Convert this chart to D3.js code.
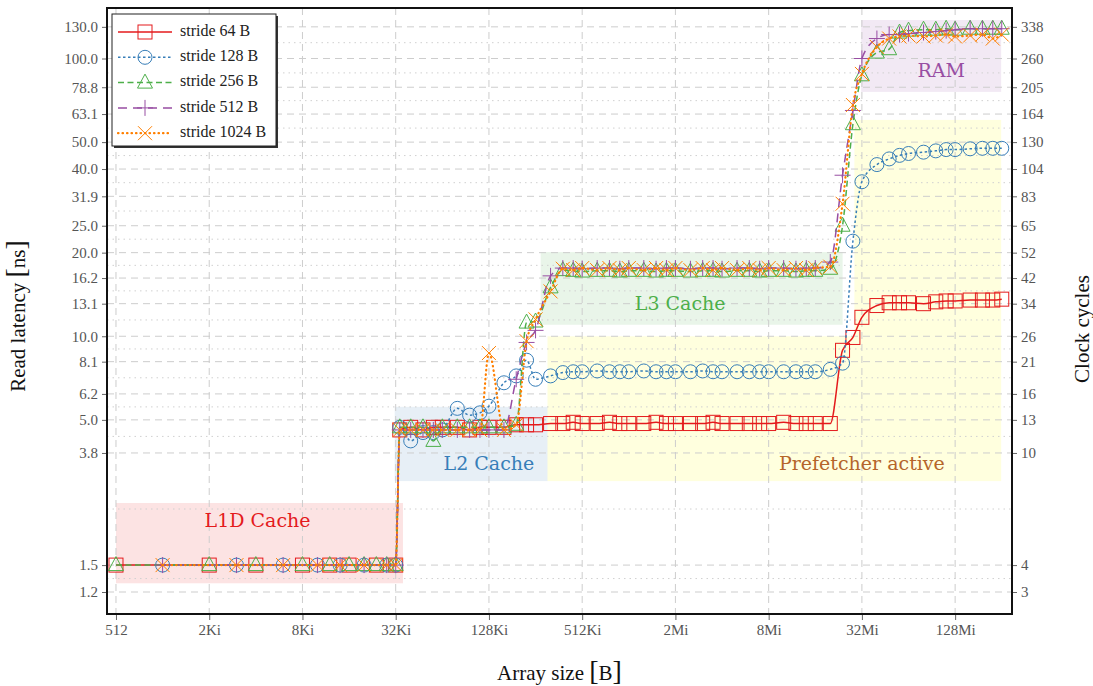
<!DOCTYPE html>
<html>
<head>
<meta charset="utf-8">
<script src="https://cdn.jsdelivr.net/npm/d3@7"></script>
<style>
  body { margin: 0; background: #fff; }
  svg { font-family: "Liberation Serif", "DejaVu Serif", serif; }
</style>
</head>
<body>
<svg id="chart" width="1093" height="686"></svg>
<script>
/* ---- data ---- */
// array sizes in KiB (sparse in L1, 4 per octave afterwards)
var sizesKiB = [0.5, 1, 2, 3, 4, 6, 8, 10, 12, 14, 16, 20, 24, 28,
  32, 34,
  40, 48, 56, 64, 80, 96, 112, 128, 160, 192, 224, 256,
  320, 384, 448, 512, 640, 768, 896, 1024, 1280, 1536, 1792, 2048, 2560, 3072, 3584,
  4096, 5120, 6144, 7168, 8192, 10240, 12288, 14336, 16384,
  20480, 24576, 28672, 32768, 40960, 49152, 57344, 65536, 81920, 98304, 114688, 131072,
  163840, 196608, 229376, 262144];

// read latency in ns, one value per size (null = not measured for that stride)
var lat64 = [1.5, null, 1.5, null, 1.5, null, 1.5, null, 1.5, null, 1.5, null, 1.5, null,
  1.5, 4.6,
  4.7, 4.6, 4.7, 4.7, 4.7, 4.6, 4.7, 4.7, 4.7, 4.8, 4.8, 4.8,
  4.85, 4.85, 4.9, 4.85, 4.85, 4.9, 4.85, 4.85, 4.85, 4.9, 4.85, 4.85, 4.85, 4.85, 4.9,
  4.85, 4.85, 4.85, 4.85, 4.85, 4.9, 4.85, 4.85, 4.85,
  4.85, 8.9, 9.9, 11.7, 12.9, 13.2, 13.2, 13.2, 13.1, 13.3, 13.4, 13.4,
  13.5, 13.5, 13.5, 13.6];
var lat128 = [null, 1.5, null, 1.5, null, 1.5, null, 1.5, null, 1.5, null, 1.5, null, 1.5,
  1.5, 4.7,
  4.2, 4.5, 4.5, 4.6, 5.5, 5.2, 5.3, 5.6, 6.8, 7.2, 8.2, 7.0,
  7.2, 7.4, 7.45, 7.45, 7.5, 7.45, 7.45, 7.45, 7.5, 7.45, 7.45, 7.45, 7.45, 7.5, 7.45,
  7.45, 7.45, 7.45, 7.45, 7.45, 7.45, 7.45, 7.45, 7.45,
  7.6, 8.0, 22, 36, 41.5, 43.5, 44.8, 45.5, 46, 46.5, 47, 47,
  47.3, 47.5, 47.5, 47.5];
var lat256 = [1.5, null, 1.5, null, 1.5, null, 1.5, null, 1.5, null, 1.5, 1.5, 1.5, 1.5,
  1.5, 4.7,
  4.7, 4.7, 4.2, 4.7, 4.7, 4.7, 4.7, 4.7, 4.7, 4.8, 11.2, 11.3,
  15.0, 17.3, 17.2, 17.1, 17.2, 17.2, 17.1, 17.2, 17.2, 17.1, 17.2, 17.2, 17.1, 17.2, 17.2,
  17.1, 17.2, 17.2, 17.1, 17.2, 17.2, 17.1, 17.2, 17.2,
  17.5, 25, 58, 87, 105, 108, 124, 126, 127, 127, 128, 127,
  128, 128, 128, 128];
var lat512 = [null, 1.5, null, 1.5, null, 1.5, null, 1.5, null, 1.5, null, 1.5, null, 1.5,
  1.5, 4.6,
  4.6, 4.6, 4.6, 4.6, 4.6, 4.6, 4.6, 4.6, 4.6, 7.0, 9.5, 10.5,
  16.5, 17.6, 17.6, 17.5, 17.6, 17.6, 17.5, 17.6, 17.6, 17.5, 17.6, 17.6, 17.5, 17.6, 17.6,
  17.5, 17.6, 17.6, 17.5, 17.6, 17.6, 17.5, 17.6, 17.6,
  18.5, 38, 65, 100, 118, 122, 122, 123, 124, 125, 126, 127,
  128, 128, 128, 128];
var lat1024 = [null, 1.5, null, 1.5, null, 1.5, null, 1.5, null, 1.5, null, 1.5, null, 1.5,
  1.5, 4.6,
  4.6, 4.6, 4.6, 4.6, 4.6, 4.6, 4.6, 8.7, 4.6, 4.8, 9.6, 11.5,
  14.5, 17.5, 17.3, 17.6, 17.3, 17.6, 17.3, 17.6, 17.3, 17.6, 17.3, 17.6, 17.3, 17.6, 17.3,
  17.6, 17.3, 17.6, 17.3, 17.6, 17.3, 17.6, 17.3, 17.6,
  17.8, 30, 68, 88, 110, 118, 120, 121, 120, 121, 122, 120,
  121, 122, 118, 122];

var seriesNames = ["stride 64 B", "stride 128 B", "stride 256 B", "stride 512 B", "stride 1024 B"];

var xTickValues = [512, 2048, 8192, 32768, 131072, 524288, 2097152, 8388608, 33554432, 134217728];
var xTickLabels = ["512", "2Ki", "8Ki", "32Ki", "128Ki", "512Ki", "2Mi", "8Mi", "32Mi", "128Mi"];
var yTicks = [1.2, 1.5, 3.8, 5.0, 6.2, 8.1, 10.0, 13.1, 16.2, 20.0, 25.0, 31.9, 40.0, 50.0, 63.1, 78.8, 100.0, 130.0];
var cycleLabels = [3, 4, 10, 13, 16, 21, 26, 34, 42, 52, 65, 83, 104, 130, 164, 205, 260, 338];

// shaded regions: size extents in bytes, latency extents in ns
var regions = [
  { name: "L1D Cache", color: "#e41a1c", x0: 512, x1: 36500, y0: 1.29, y1: 2.51, lx: 4200, ly: 2.15 },
  { name: "L2 Cache", color: "#377eb8", x0: 32300, x1: 313000, y0: 3.01, y1: 5.57, lx: 131072, ly: 3.44 },
  { name: "L3 Cache", color: "#4daf4a", x0: 283000, x1: 25.2e6, y0: 11.0, y1: 20.1, lx: 2.25e6, ly: 12.97 },
  { name: "Prefetcher active", color: "#ffff33", text: "#b5652a", x0: 313000, x1: 266e6, y0: 3.01, y1: 10.0, lx: 33554432, ly: 3.44 },
  { name: "", color: "#ffff33", x0: 30e6, x1: 266e6, y0: 10.0, y1: 60.1 },
  { name: "RAM", color: "#984ea3", x0: 33.2e6, x1: 266e6, y0: 75.8, y1: 137.6, lx: 109e6, ly: 89.6 }
];

/* ---- setup ---- */
var colors = ["#e41a1c", "#377eb8", "#4daf4a", "#984ea3", "#ff7f00"];
var dashes = [null, "2.5,2.5", "6,3.5", "9,6", "0.5,4"];
var markers = ["square", "circle", "triangle", "plus", "cross"];
var allLat = [lat64, lat128, lat256, lat512, lat1024];

// plot box (note: "top" is taken by window.top, so use other names)
var plotL = 107, plotR = 1012, plotT = 8, plotB = 614;

var svg = d3.select("#chart");

var x = d3.scaleLog().base(2).domain([448, 312.6e6]).range([plotL, plotR]);
var y = d3.scaleLog().domain([1.0, 152]).range([plotB, plotT]);

svg.append("defs").append("clipPath").attr("id", "plotclip")
  .append("rect").attr("x", plotL).attr("y", plotT).attr("width", plotR - plotL).attr("height", plotB - plotT);

// regions
svg.append("g").selectAll("rect").data(regions).enter().append("rect")
  .attr("x", function (d) { return x(d.x0); })
  .attr("y", function (d) { return y(d.y1); })
  .attr("width", function (d) { return x(d.x1) - x(d.x0); })
  .attr("height", function (d) { return y(d.y0) - y(d.y1); })
  .attr("fill", function (d) { return d.color; })
  .attr("fill-opacity", function (d) { return d.color == "#ffff33" ? 0.16 : 0.12; });

// grid
var grid = svg.append("g");
var minor = [];
for (var i = 0; i < yTicks.length - 1; i++) minor.push(Math.sqrt(yTicks[i] * yTicks[i + 1]));
grid.selectAll(".minor").data(minor).enter().append("line")
  .attr("x1", plotL).attr("x2", plotR)
  .attr("y1", function (d) { return y(d); }).attr("y2", function (d) { return y(d); })
  .attr("stroke", "#d0d0d0").attr("stroke-width", 1).attr("stroke-dasharray", "1.5,4");
grid.selectAll(".major").data(yTicks).enter().append("line")
  .attr("x1", plotL).attr("x2", plotR)
  .attr("y1", function (d) { return y(d); }).attr("y2", function (d) { return y(d); })
  .attr("stroke", "#cdcdcd").attr("stroke-width", 1).attr("stroke-dasharray", "7,5");
grid.selectAll(".vx").data(xTickValues).enter().append("line")
  .attr("x1", function (d) { return x(d); }).attr("x2", function (d) { return x(d); })
  .attr("y1", plotT).attr("y2", plotB)
  .attr("stroke", "#cdcdcd").attr("stroke-width", 1).attr("stroke-dasharray", "7,5");

// region labels
svg.append("g").selectAll("text").data(regions.filter(function (d) { return d.name; })).enter().append("text")
  .attr("x", function (d) { return x(d.lx); })
  .attr("y", function (d) { return y(d.ly); })
  .attr("text-anchor", "middle").attr("dominant-baseline", "middle")
  .attr("font-size", 19).style("font-family", "'DejaVu Serif', serif")
  .attr("fill", function (d) { return d.text || d.color; })
  .text(function (d) { return d.name; });

// marker shapes
function drawMarker(g, type, color) {
  var m;
  if (type == "square") m = g.append("rect").attr("x", -7).attr("y", -7).attr("width", 14).attr("height", 14);
  else if (type == "circle") m = g.append("circle").attr("r", 7);
  else if (type == "triangle") m = g.append("path").attr("d", "M0,-8.5L7.5,5.5L-7.5,5.5Z");
  else if (type == "plus") m = g.append("path").attr("d", "M-8,0H8M0,-8V8");
  else m = g.append("path").attr("d", "M-7,-7L7,7M-7,7L7,-7");
  m.attr("fill", "none").attr("stroke", color).attr("stroke-width", 1);
}

// series
var plot = svg.append("g").attr("clip-path", "url(#plotclip)");
var line = d3.line()
  .x(function (d) { return x(d.size); })
  .y(function (d) { return y(d.ns); })
  .curve(d3.curveMonotoneX);

allLat.forEach(function (vals, k) {
  var pts = sizesKiB.map(function (s, i) { return { size: s * 1024, ns: vals[i] }; })
    .filter(function (d) { return d.ns != null; });
  var g = plot.append("g");
  g.append("path").datum(pts).attr("d", line)
    .attr("fill", "none").attr("stroke", colors[k]).attr("stroke-width", k == 4 ? 2.2 : 1.5)
    .attr("stroke-linecap", k == 4 ? "round" : "butt")
    .attr("stroke-dasharray", dashes[k]);
  g.selectAll(".m").data(pts).enter().append("g")
    .attr("transform", function (d) { return "translate(" + x(d.size) + "," + y(d.ns) + ")"; })
    .each(function () { drawMarker(d3.select(this), markers[k], colors[k]); });
});

// axes
function styleAxis(g) {
  g.select(".domain").remove();
  g.selectAll(".tick line").attr("stroke", "#666");
  g.selectAll(".tick text").attr("fill", "#555").attr("font-size", 15)
    .style("font-family", "'Liberation Serif', serif");
}
svg.append("g").attr("transform", "translate(" + plotL + ",0)")
  .call(d3.axisLeft(y).tickValues(yTicks).tickFormat(d3.format(".1f")).tickSize(5).tickPadding(4))
  .call(styleAxis);
svg.append("g").attr("transform", "translate(" + plotR + ",0)")
  .call(d3.axisRight(y).tickValues(yTicks).tickFormat(function (d, i) { return cycleLabels[i]; }).tickSize(5).tickPadding(4))
  .call(styleAxis);
svg.append("g").attr("transform", "translate(0," + plotB + ")")
  .call(d3.axisBottom(x).tickValues(xTickValues).tickFormat(function (d, i) { return xTickLabels[i]; }).tickSize(6).tickPadding(4))
  .call(styleAxis);

// frame
svg.append("rect").attr("x", plotL).attr("y", plotT).attr("width", plotR - plotL).attr("height", plotB - plotT)
  .attr("fill", "none").attr("stroke", "#111").attr("stroke-width", 2);

// axis titles
function bracketTitle(t, pre, inner) {
  t.append("tspan").text(pre);
  t.append("tspan").attr("font-size", 28).attr("font-weight", 300).text("[");
  t.append("tspan").text(inner);
  t.append("tspan").attr("font-size", 28).attr("font-weight", 300).text("]");
}
var tx = svg.append("text").attr("x", (plotL + plotR) / 2).attr("y", 680)
  .attr("text-anchor", "middle").attr("font-size", 21).attr("fill", "#111");
bracketTitle(tx, "Array size ", "B");
var ty = svg.append("text").attr("transform", "translate(25,316) rotate(-90)")
  .attr("text-anchor", "middle").attr("font-size", 21).attr("fill", "#111");
bracketTitle(ty, "Read latency ", "ns");
svg.append("text").attr("transform", "translate(1089,329) rotate(-90)")
  .attr("text-anchor", "middle").attr("font-size", 21).attr("fill", "#111")
  .text("Clock cycles");

// legend
var lg = svg.append("g").attr("transform", "translate(112,14)");
lg.append("rect").attr("x", 2).attr("y", 2).attr("width", 164).attr("height", 132).attr("fill", "#333");
lg.append("rect").attr("width", 164).attr("height", 132).attr("fill", "#fff").attr("stroke", "#222").attr("stroke-width", 1);
seriesNames.forEach(function (name, k) {
  var row = lg.append("g").attr("transform", "translate(0," + (18 + k * 25.3) + ")");
  row.append("line").attr("x1", 6).attr("x2", 60)
    .attr("stroke", colors[k]).attr("stroke-width", k == 4 ? 2.2 : 1.5)
    .attr("stroke-linecap", k == 4 ? "round" : "butt")
    .attr("stroke-dasharray", dashes[k]);
  drawMarker(row.append("g").attr("transform", "translate(33,0)"), markers[k], colors[k]);
  row.append("text").attr("x", 68).attr("y", 0).attr("dominant-baseline", "middle")
    .attr("font-size", 16).attr("fill", "#222").text(name);
});
</script>
</body>
</html>
